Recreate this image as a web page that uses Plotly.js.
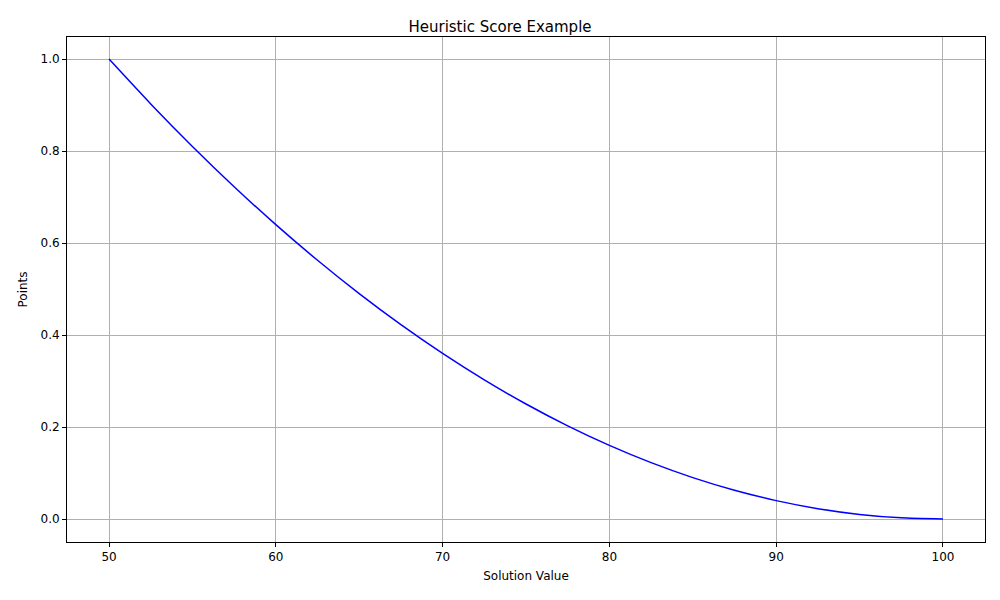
<!DOCTYPE html>
<html>
<head>
<meta charset="utf-8">
<script src="https://cdn.plot.ly/plotly-3.0.1.min.js"></script>
<style>body{margin:0;}#chart{width:1000px;height:600px;}</style>
</head>
<body>
<div id="chart"></div>
<script>
// values
let solution_values = [50, 52.5, 55, 57.5, 60, 62.5, 65, 67.5, 70, 72.5, 75, 77.5, 80, 82.5, 85, 87.5, 90, 92.5, 95, 97.5, 100];
let points = [1.0, 0.9025, 0.81, 0.7225, 0.64, 0.5625, 0.49, 0.4225, 0.36, 0.3025, 0.25, 0.2025, 0.16, 0.1225, 0.09, 0.0625, 0.04, 0.0225, 0.01, 0.0025, 0.0];

let curve = {
	x: solution_values,
	y: points,
	mode: 'lines',
	line: {color: 'blue', width: 1.5, shape: 'spline', smoothing: 0.6}
};

let axis_common = {
	showline: true, mirror: true, linecolor: 'black', linewidth: 1,
	ticks: 'outside', ticklen: 4, tickcolor: 'black',
	showgrid: true, gridcolor: '#b0b0b0', gridwidth: 1, zeroline: false,
	tickfont: {size: 12, color: 'black'}
};

let layout = {
	width: 1000, height: 600,
	margin: {l: 67, r: 15, t: 37, b: 58},
	font: {family: 'DejaVu Sans', color: 'black'},
	paper_bgcolor: 'white', plot_bgcolor: 'white',
	showlegend: false,
	title: {text: 'Heuristic Score Example', x: 0.5, xanchor: 'center', y: 0.965, font: {size: 15}},
	xaxis: Object.assign({}, axis_common, {
		range: [47.48, 102.52], tickvals: [50, 60, 70, 80, 90, 100],
		title: {text: 'Solution Value', font: {size: 12}, standoff: 8}
	}),
	yaxis: Object.assign({}, axis_common, {
		range: [-0.05, 1.048], tickvals: [0, 0.2, 0.4, 0.6, 0.8, 1.0], tickformat: '.1f',
		title: {text: 'Points', font: {size: 12}, standoff: 10}
	})
};

Plotly.newPlot('chart', [curve], layout, {staticPlot: true});
</script>
</body>
</html>
